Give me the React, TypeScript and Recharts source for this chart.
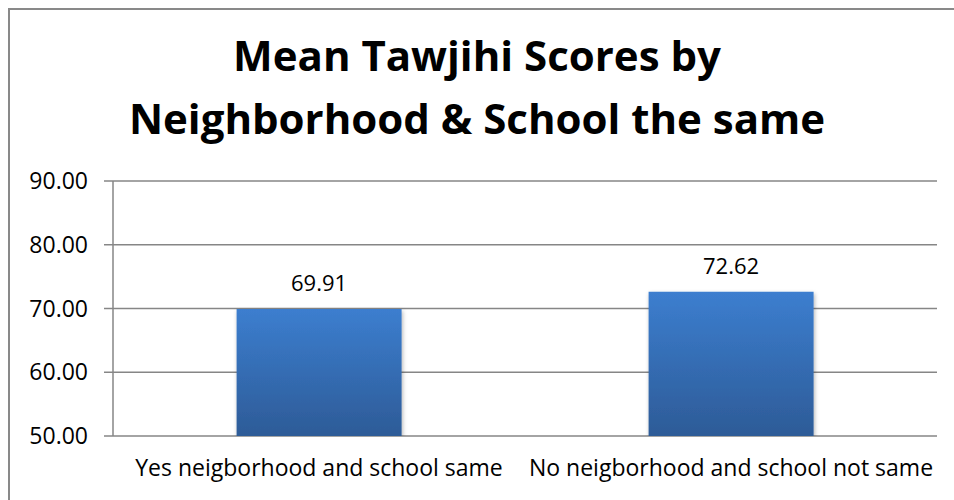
import React from 'react';
import { BarChart, Bar, XAxis, YAxis, CartesianGrid, LabelList } from 'recharts';

const categories = ['Yes neigborhood and school same', 'No neigborhood and school not same'];
const meanScores = [69.91, 72.62];
const yTicks = [50, 60, 70, 80, 90];
const titleLines = ['Mean Tawjihi Scores by', 'Neighborhood & School the same'];

const data = categories.map((c, i) => ({ name: c, idx: i + 0.5, value: meanScores[i] }));

const FONT = '"Open Sans", "Noto Sans", sans-serif';
const AXIS = '#868686';

export default function App() {
  return (
    <div style={{ position: 'fixed', left: 0, top: 0, width: 954, height: 500, background: '#fff', overflow: 'hidden', fontFamily: FONT }}>
      <div style={{ position: 'absolute', left: 8, top: 8, width: 980, height: 520, border: '2px solid #898989', boxSizing: 'border-box' }} />
      <div style={{ position: 'absolute', left: 0, top: 0, width: 954 }}>
        {titleLines.map((t, i) => (
          <div key={i} style={{ position: 'absolute', left: 0, width: 954, textAlign: 'center', top: 30 + i * 63, fontSize: 42, fontWeight: 700, lineHeight: '50px', color: '#000', whiteSpace: 'nowrap' }}>{t}</div>
        ))}
      </div>
      <div style={{ position: 'absolute', left: 0, top: 0 }}>
        <BarChart width={954} height={500} data={data} margin={{ top: 181, right: 17, bottom: 0, left: 13 }} barCategoryGap="30%">
          <defs>
            <linearGradient id="barGrad" x1="0" y1="0" x2="0" y2="1">
              <stop offset="0%" stopColor="#3c7ecf" />
              <stop offset="100%" stopColor="#2d5b97" />
            </linearGradient>
            <filter id="shadow" x="-10%" y="-10%" width="120%" height="120%">
              <feDropShadow dx="1" dy="2" stdDeviation="2" floodColor="#000" floodOpacity="0.3" />
            </filter>
          </defs>
          <CartesianGrid horizontal vertical={false} stroke={AXIS} strokeWidth={1.5} />
          <XAxis xAxisId="ticks" dataKey="idx" type="number" domain={[0, 2]} ticks={[0, 1, 2]} tick={false} tickLine={{ stroke: AXIS, strokeWidth: 1.5 }} tickSize={8} axisLine={{ stroke: AXIS, strokeWidth: 1.5 }} height={0} />
          <XAxis dataKey="name" type="category" axisLine={false} tickLine={false} tickSize={0} tickMargin={24} interval={0} tick={{ fill: '#000', fontSize: 23, fontFamily: FONT }} height={64} />
          <YAxis domain={[50, 90]} ticks={yTicks} tickFormatter={(v: number) => v.toFixed(2)} tick={{ fill: '#000', fontSize: 23, fontFamily: FONT }} tickLine={{ stroke: AXIS, strokeWidth: 1.5 }} tickSize={9} tickMargin={16} axisLine={{ stroke: AXIS, strokeWidth: 1.5 }} width={100} allowDataOverflow />
          <Bar dataKey="value" fill="url(#barGrad)" isAnimationActive={false} filter="url(#shadow)">
            <LabelList dataKey="value" position="top" offset={18} formatter={(v: number) => v.toFixed(2)} style={{ fill: '#000', fontSize: 22, fontFamily: FONT }} />
          </Bar>
        </BarChart>
      </div>
    </div>
  );
}
